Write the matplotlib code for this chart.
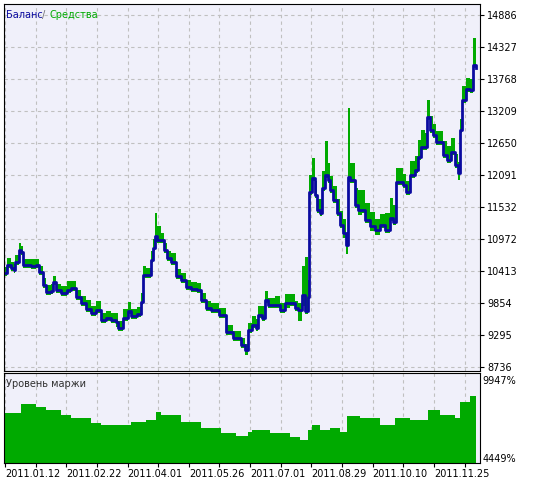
import numpy as np
import matplotlib.pyplot as plt

# trade index positions
x = [4, 6, 10, 13, 14, 18, 20, 22, 30, 35,
     38, 42, 45, 50, 52, 55, 60, 66, 70, 75,
     80, 85, 90, 95, 100, 105, 110, 115, 117, 122,
     127, 130, 136, 140, 142, 145, 150, 152, 154, 156,
     160, 163, 166, 170, 175, 180, 185, 190, 196, 200,
     205, 210, 218, 225, 232, 240, 245, 248, 252, 256,
     258, 262, 265, 268, 275, 280, 285, 290, 295, 298,
     302, 305, 308, 309, 312, 315, 317, 320, 322, 325,
     328, 330, 333, 337, 340, 343, 346, 348, 350, 355,
     358, 362, 365, 370, 375, 380, 385, 390, 393, 396,
     400, 403, 406, 410, 415, 418, 421, 425, 427, 430,
     433, 436, 440, 443, 447, 451, 455, 458, 460, 462,
     466, 470, 473, 476]

balance = [10379, 10518, 10466, 10431, 10571, 10780, 10746, 10518, 10501, 10518,
           10396, 10169, 10047, 10064, 10221, 10082, 10030, 10082, 10117, 9959,
           9855, 9750, 9680, 9732, 9558, 9593, 9558, 9523, 9418, 9593,
           9715, 9628, 9663, 9872, 10344, 10344, 10606, 10815, 11025, 10955,
           10955, 10780, 10641, 10571, 10327, 10258, 10134, 10099, 10082, 9907,
           9767, 9732, 9645, 9348, 9243, 9121, 9034, 9383, 9470, 9418,
           9645, 9593, 9907, 9820, 9820, 9732, 9855, 9855, 9767, 9732,
           9994, 9715, 9959, 11794, 12038, 11741, 11479, 11427, 11864, 12091,
           12003, 11829, 11654, 11427, 11217, 11077, 10868, 12056, 12003, 11567,
           11479, 11479, 11305, 11200, 11130, 11217, 11130, 11340, 11270, 11969,
           11969, 11916, 11794, 12091, 12178, 12405, 12580, 12580, 13104, 12877,
           12790, 12667, 12667, 12440, 12352, 12492, 12265, 12120, 12877, 13401,
           13593, 13576, 14012, 13960]

eq_up = [100, 120, 100, 100, 120, 120, 100, 100, 120, 100,
         100, 120, 120, 120, 100, 100, 120, 160, 120, 120,
         120, 160, 120, 160, 120, 120, 120, 160, 120, 160,
         160, 120, 120, 160, 160, 120, 160, 160, 400, 250,
         120, 120, 120, 160, 120, 120, 120, 120, 120, 120,
         120, 120, 120, 120, 120, 120, 100, 120, 160, 160,
         160, 200, 160, 120, 160, 120, 160, 160, 120, 120,
         500, 950, 300, 300, 350, 250, 200, 250, 300, 600,
         300, 250, 250, 250, 250, 250, 150, 1200, 300, 300,
         350, 350, 300, 250, 200, 200, 300, 350, 300, 250,
         250, 200, 200, 250, 250, 300, 300, 250, 300, 250,
         200, 200, 200, 250, 250, 250, 200, 200, 200, 250,
         200, 200, 470, 150]

eq_dn = [50, 60, 50, 60, 50, 50, 60, 60, 50, 50,
         60, 60, 50, 50, 60, 60, 60, 50, 60, 60,
         60, 60, 60, 50, 60, 60, 60, 80, 60, 60,
         50, 60, 50, 60, 50, 50, 50, 50, 50, 50,
         50, 60, 60, 60, 60, 50, 50, 60, 50, 60,
         60, 50, 50, 60, 50, 60, 80, 50, 50, 50,
         60, 60, 60, 50, 50, 60, 80, 60, 60, 200,
         200, 60, 60, 50, 60, 50, 60, 60, 50, 50,
         60, 50, 60, 60, 60, 80, 150, 50, 60, 60,
         80, 60, 60, 80, 80, 60, 60, 60, 60, 60,
         60, 60, 60, 60, 60, 60, 60, 60, 60, 60,
         60, 60, 60, 60, 60, 60, 60, 120, 60, 60,
         60, 60, 60, 60]

# margin level, %
m_x = [4, 20, 35, 45, 60, 70, 90, 100, 120, 130, 145, 155, 160, 180, 200, 220, 235,
       248, 252, 270, 290, 300, 308, 312, 320, 330, 340, 347, 360, 380, 395, 410, 428,
       440, 455, 460, 470, 476]
margin = [7621, 8256, 8045, 7833, 7480, 7269, 6916, 6775, 6775, 6987, 7128, 7692, 7480,
          6987, 6564, 6211, 6000, 6282, 6423, 6211, 5929, 5718, 6423, 6775, 6423, 6564,
          6282, 7410, 7269, 6775, 7269, 7128, 7833, 7480, 7269, 8397, 8820, 9243]

y_ticks = [8736, 9295, 9854, 10413, 10972, 11532, 12091, 12650, 13209, 13768, 14327, 14886]
date_labels = ['2011.01.12', '2011.02.22', '2011.04.01', '2011.05.26',
               '2011.07.01', '2011.08.29', '2011.10.10', '2011.11.25']

bg = '#f0f0fa'
green = '#00aa00'
navy = '#0a0aa0'
grid_x = np.arange(4, 480, 30.7)

fig = plt.figure(figsize=(5.45, 4.8), dpi=100)
ax = fig.add_axes([4 / 545, 109 / 480, 476 / 545, 367 / 480])
ax2 = fig.add_axes([4 / 545, 17 / 480, 476 / 545, 90 / 480])

xa = np.array(x)
bal = np.array(balance)
ax.fill_between(xa, bal - np.array(eq_dn), bal + np.array(eq_up), step='post', color=green, lw=0)
ax.step(xa, bal, where='post', color=navy, lw=2)
ax.set_xlim(3, 480)
ax.set_ylim(8666, 15078)
ax.set_facecolor(bg)
ax.yaxis.tick_right()
ax.set_yticks(y_ticks)
ax.set_yticklabels([str(v) for v in y_ticks], fontsize=7)
ax.set_xticks(grid_x)
ax.tick_params(axis='x', length=0, labelbottom=False)
ax.tick_params(axis='y', length=3, pad=2)
ax.grid(True, ls=(0, (3, 3)), color='#c0c0c0', lw=0.8)
ax.set_axisbelow(True)
ax.text(0.005, 0.985, 'Баланс', color=navy, transform=ax.transAxes, fontsize=7, va='top')
ax.text(0.080, 0.985, '/', color='#707070', transform=ax.transAxes, fontsize=7, va='top')
ax.text(0.095, 0.985, 'Средства', color=green, transform=ax.transAxes, fontsize=7, va='top')

ax2.fill_between(m_x, 0, margin, step='post', color=green, lw=0)
ax2.set_xlim(3, 480)
ax2.set_ylim(4096, 10440)
ax2.set_facecolor(bg)
ax2.yaxis.tick_right()
ax2.set_yticks([4449, 9947])
ax2.set_yticklabels(['4449%', '9947%'], fontsize=7)
ax2.tick_params(axis='y', length=0, pad=2)
ax2.set_xticks(grid_x)
ax2.set_xticklabels([date_labels[i // 2] if i % 2 == 0 else '' for i in range(len(grid_x))],
                    fontsize=7, ha='left')
ax2.tick_params(axis='x', length=3, pad=1)
ax2.grid(True, axis='x', ls=(0, (3, 3)), color='#c0c0c0', lw=0.8)
ax2.set_axisbelow(True)
ax2.text(0.005, 0.93, 'Уровень маржи', color='#303030', transform=ax2.transAxes, fontsize=7, va='top')

fig.savefig('out.png', dpi=100)
